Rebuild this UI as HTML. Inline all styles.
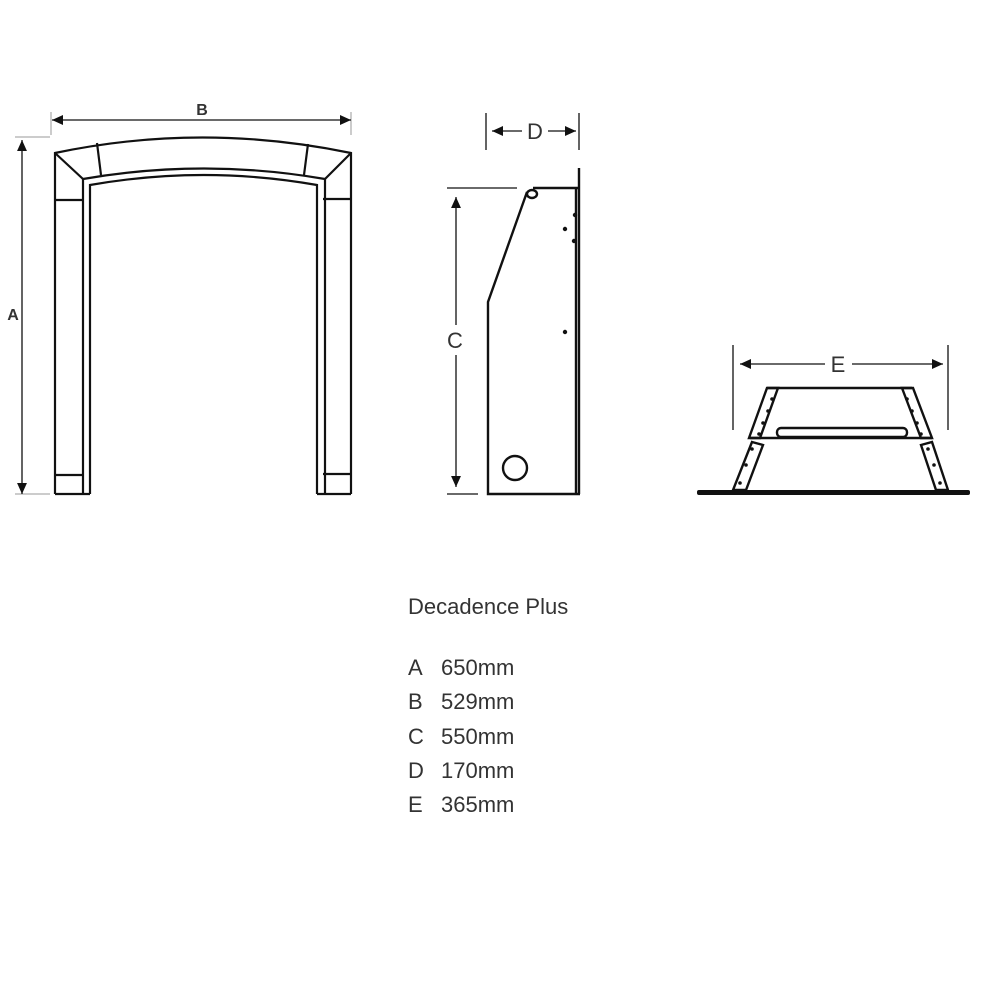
<!DOCTYPE html>
<html><head><style>
html,body{margin:0;padding:0;background:#fff}
svg{display:block}
text{font-family:"Liberation Sans",sans-serif;fill:#333}
</style></head><body>
<svg width="1000" height="1000" viewBox="0 0 1000 1000" xmlns="http://www.w3.org/2000/svg">
<defs>
<marker id="ar" viewBox="0 0 10 10" refX="10" refY="5" markerWidth="12" markerHeight="11" markerUnits="userSpaceOnUse" orient="auto-start-reverse"><path d="M0,0.5 L10,5 L0,9.5 z" fill="#111"/></marker>
</defs>
<g stroke="#111" fill="none" stroke-width="2.2">
<!-- front -->
<path d="M55,494 V153 Q202,122 351,153 V494"/>
<path d="M83,494 V179 Q204,158 325,179 V494"/>
<path d="M90,494 V185 Q204,165 317,185 V494"/>
<path d="M55,494 H90 M317,494 H351"/>
<path d="M55,153 L83,179 M351,153 L325,179"/>
<path d="M97,143 L101,175 M308,144 L304,175"/>
<path d="M55,200 H83 M323,199 H351 M55,475 H83 M323,474 H351"/>
</g>
<g stroke="#999" stroke-width="1" fill="none">
<path d="M15,137 H50 M15,494 H50 M51,112 V135 M351,112 V135"/>
</g>
<g stroke="#111" stroke-width="1.3" fill="none">
<line x1="22" y1="140" x2="22" y2="494" marker-start="url(#ar)" marker-end="url(#ar)"/>
<line x1="52" y1="120" x2="351" y2="120" marker-start="url(#ar)" marker-end="url(#ar)"/>
</g>
<text x="202" y="115" font-size="16" font-weight="bold" text-anchor="middle">B</text>
<text x="13" y="320" font-size="16" font-weight="bold" text-anchor="middle">A</text>

<!-- side view -->
<g stroke="#111" fill="none" stroke-width="2.4">
<path d="M533,188 H579 M579,168 V494 M576,188 V494"/>
<path d="M527,192 L488,302 V494 H580"/>
<circle cx="515" cy="468" r="12"/>
<ellipse cx="532" cy="194" rx="5" ry="4"/>
</g>
<g fill="#111"><circle cx="565" cy="229" r="2.2"/><circle cx="574" cy="241" r="2.2"/><circle cx="575" cy="215" r="2.2"/><circle cx="565" cy="332" r="2.2"/></g>
<g stroke="#111" stroke-width="1.3" fill="none">
<path d="M486,113 V150 M579,113 V150 M447,188 H517 M447,494 H478"/>
<line x1="522" y1="131" x2="492" y2="131" marker-end="url(#ar)"/>
<line x1="548" y1="131" x2="576" y2="131" marker-end="url(#ar)"/>
<line x1="456" y1="325" x2="456" y2="197" marker-end="url(#ar)"/>
<line x1="456" y1="355" x2="456" y2="487" marker-end="url(#ar)"/>
</g>
<text x="535" y="139" font-size="22" text-anchor="middle">D</text>
<text x="455" y="348" font-size="22" text-anchor="middle">C</text>

<!-- right view -->
<g stroke="#111" fill="none" stroke-width="2.4">
<path d="M767,388 H912"/>
<path d="M767,388 L778,388 L760,438 L749,438 Z"/>
<path d="M902,388 L913,388 L932,438 L921,438 Z"/>
<path d="M750,438 H932"/>
<path d="M752,442 L763,445 L746,490 L733,490 Z"/>
<path d="M921,445 L932,442 L948,490 L936,490 Z"/>
<rect x="777" y="428" width="130" height="9" rx="4"/>
</g>
<rect x="697" y="490" width="273" height="5" rx="2" fill="#111"/>
<g fill="#111">
<circle cx="772" cy="399" r="1.8"/><circle cx="768" cy="411" r="1.8"/><circle cx="763" cy="423" r="1.8"/><circle cx="759" cy="434" r="1.8"/>
<circle cx="907" cy="399" r="1.8"/><circle cx="912" cy="411" r="1.8"/><circle cx="917" cy="423" r="1.8"/><circle cx="921" cy="434" r="1.8"/>
<circle cx="752" cy="449" r="1.8"/><circle cx="746" cy="465" r="1.8"/><circle cx="740" cy="483" r="1.8"/>
<circle cx="928" cy="449" r="1.8"/><circle cx="934" cy="465" r="1.8"/><circle cx="940" cy="483" r="1.8"/>
</g>
<g stroke="#111" stroke-width="1.3" fill="none">
<path d="M733,345 V430 M948,345 V430"/>
<line x1="825" y1="364" x2="740" y2="364" marker-end="url(#ar)"/>
<line x1="852" y1="364" x2="943" y2="364" marker-end="url(#ar)"/>
</g>
<text x="838" y="372" font-size="22" text-anchor="middle">E</text>

<!-- text -->
<g font-size="22">
<text x="408" y="614">Decadence Plus</text>
<text x="408" y="675">A</text><text x="441" y="675">650mm</text>
<text x="408" y="709">B</text><text x="441" y="709">529mm</text>
<text x="408" y="744">C</text><text x="441" y="744">550mm</text>
<text x="408" y="778">D</text><text x="441" y="778">170mm</text>
<text x="408" y="812">E</text><text x="441" y="812">365mm</text>
</g>
</svg>
</body></html>
